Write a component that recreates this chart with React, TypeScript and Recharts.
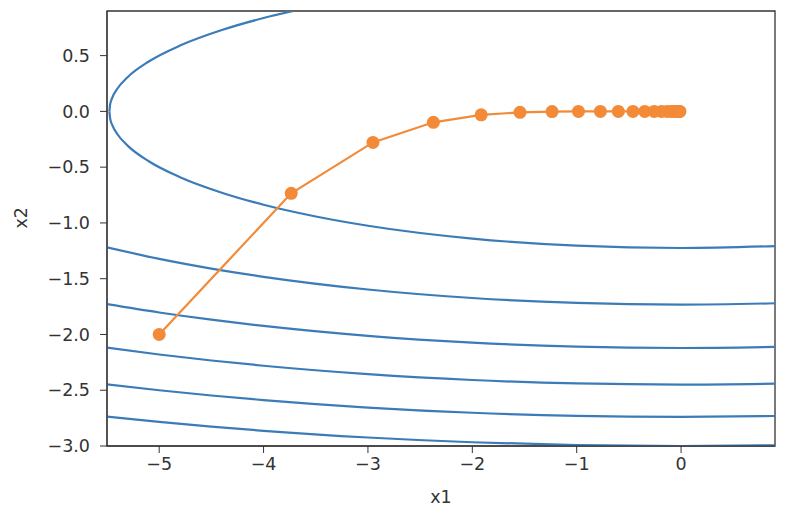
import { ComposedChart, Line, XAxis, YAxis, ReferenceArea } from 'recharts';

// optimiser path (x1, x2) per step
const pathX1 = [-5, -3.735, -2.952, -2.373, -1.915, -1.543, -1.236, -0.983, -0.773, -0.601, -0.461, -0.348, -0.258, -0.188, -0.134, -0.094, -0.064, -0.043, -0.028, -0.017, -0.011];
const pathX2 = [-2, -0.735, -0.278, -0.098, -0.031, -0.0087, -0.0021, -0.0005, -0.0001, 0, 0, 0, 0, 0, 0, 0, 0, 0, 0, 0, 0];

// innermost contour, split into upper and lower arcs at its left tip
const innerUpperX1 = [-5.477, -5.47, -5.45, -5.4, -5.3, -5.1, -4.8, -4.4, -4, -3.715];
const innerUpperX2 = [0, 0.063, 0.122, 0.205, 0.309, 0.447, 0.59, 0.729, 0.837, 0.9];
const innerLowerX1 = [-5.477, -5.47, -5.45, -5.4, -5.3, -5.1, -4.8, -4.4, -4, -3.5, -3, -2, -1, 0, 0.9];
const innerLowerX2 = [0, -0.063, -0.122, -0.205, -0.309, -0.447, -0.59, -0.729, -0.837, -0.942, -1.025, -1.14, -1.204, -1.225, -1.208];

// outer contours, sampled at the same x1 positions
const outerX1 = [-5.5, -5, -4.5, -4, -3, -2, -1, 0, 0.9];
const level6 = [-1.2196, -1.3229, -1.4098, -1.4832, -1.5969, -1.6733, -1.7176, -1.7321, -1.7203];
const level9 = [-1.7285, -1.8028, -1.8675, -1.9235, -2.0125, -2.0736, -2.1095, -2.1213, -2.1118];
const level12 = [-2.1184, -2.1794, -2.2333, -2.2804, -2.3558, -2.4083, -2.4393, -2.4495, -2.4412];
const level15 = [-2.4469, -2.5, -2.5471, -2.5884, -2.6552, -2.7019, -2.7295, -2.7386, -2.7312];
const level18 = [-2.7363, -2.7839, -2.8262, -2.8636, -2.924, -2.9665, -2.9917, -3.0, -2.9932];

const xTicks = [-5, -4, -3, -2, -1, 0];
const yTicks = [-3, -2.5, -2, -1.5, -1, -0.5, 0, 0.5];

const BLUE = '#3b7cb8';
const ORANGE = '#f28a38';
const INK = '#333';
const FONT = 'DejaVu Sans';

const zip = (xs: number[], ys: number[]) => xs.map((x, i) => ({ x, y: ys[i] }));

const contours = [
  zip(innerUpperX1, innerUpperX2),
  zip(innerLowerX1, innerLowerX2),
  zip(outerX1, level6),
  zip(outerX1, level9),
  zip(outerX1, level12),
  zip(outerX1, level15),
  zip(outerX1, level18),
];
const path = zip(pathX1, pathX2);

const tickStyle = { fill: INK, fontSize: 17.5, fontFamily: FONT };

export default function App() {
  return (
    <div style={{ position: 'absolute', left: 0, top: 0, width: 796, height: 522, background: '#fff' }}>
      <ComposedChart width={796} height={522} margin={{ top: 11, right: 21, bottom: 36, left: 47 }}>
        <XAxis
          dataKey="x"
          type="number"
          domain={[-5.5, 0.9]}
          ticks={xTicks}
          allowDataOverflow
          height={40}
          tickSize={7}
          tickMargin={5}
          tick={tickStyle}
          stroke={INK}
          tickFormatter={(v: number) => String(v).replace('-', '\u2212')}
          label={{ value: 'x1', position: 'insideBottom', offset: -17, fill: INK, fontSize: 17.5, fontFamily: FONT }}
        />
        <YAxis
          type="number"
          domain={[-3, 0.9]}
          ticks={yTicks}
          allowDataOverflow
          width={60}
          tickSize={7}
          tickMargin={10}
          tick={tickStyle}
          stroke={INK}
          tickFormatter={(v: number) => v.toFixed(1).replace('-', '\u2212')}
          label={{ value: 'x2', angle: -90, position: 'insideLeft', offset: -26, fill: INK, fontSize: 17.5, fontFamily: FONT }}
        />
        {contours.map((d, i) => (
          <Line
            key={i}
            data={d}
            dataKey="y"
            type="monotone"
            stroke={BLUE}
            strokeWidth={2.2}
            dot={false}
            isAnimationActive={false}
          />
        ))}
        <Line
          data={path}
          dataKey="y"
          type="linear"
          stroke={ORANGE}
          strokeWidth={2.2}
          dot={{ r: 6.5, fill: ORANGE, stroke: ORANGE, strokeWidth: 0 }}
          isAnimationActive={false}
        />
        <ReferenceArea x1={-5.5} x2={0.9} y1={-3} y2={0.9} fill="none" stroke={INK} strokeWidth={1.3} ifOverflow="visible" />
      </ComposedChart>
    </div>
  );
}
